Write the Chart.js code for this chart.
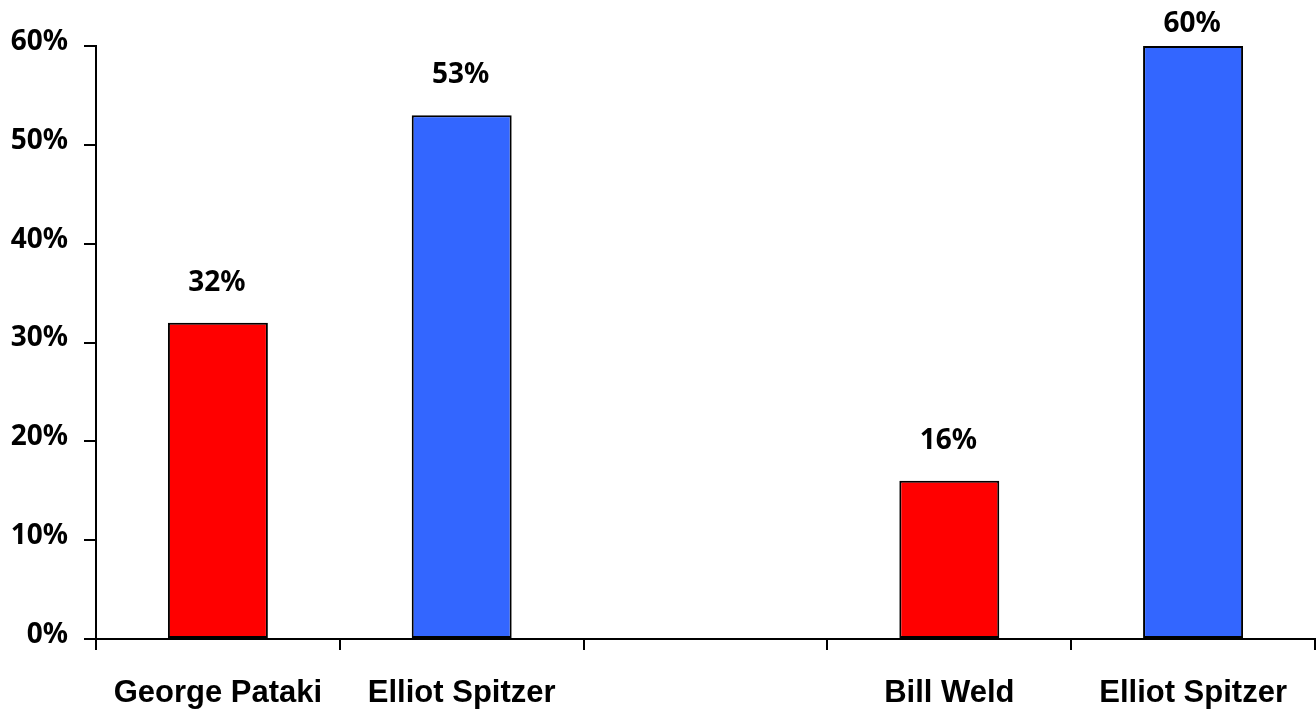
<!DOCTYPE html>
<html>
<head>
<meta charset="utf-8">
<script src="https://cdn.jsdelivr.net/npm/chart.js@4/dist/chart.umd.min.js"></script>
<style>
  body { margin: 0; background: #fff; }
  #wrap { width: 1316px; height: 710px; }
</style>
</head>
<body>
<div id="wrap"><canvas id="bars"></canvas></div>
<script>
var categories = ['George Pataki', 'Elliot Spitzer', '', 'Bill Weld', 'Elliot Spitzer'];
var values = [32, 53, null, 16, 60];
var barColors = ['#FF0000', '#3366FF', '#FFFFFF', '#FF0000', '#3366FF'];
var yTicks = [0, 10, 20, 30, 40, 50, 60];

var labelFont = { family: '"Noto Sans", sans-serif', size: 28, weight: 'bold' };

// draws the % value above each bar (kept inside the canvas at the top)
var valueLabels = {
    id: 'valueLabels',
    afterDatasetsDraw: function (chart) {
        var c = chart.ctx;
        var meta = chart.getDatasetMeta(0);
        c.save();
        c.font = 'bold 28px "Noto Sans", sans-serif';
        c.fillStyle = '#000';
        c.textAlign = 'center';
        c.textBaseline = 'alphabetic';
        meta.data.forEach(function (bar, i) {
            if (values[i] == null) return;
            c.fillText(values[i] + '%', bar.x - 1, Math.max(bar.y - 32, 32));
        });
        c.restore();
    }
};

var ctx = document.getElementById('bars').getContext('2d');
var myChart = new Chart(ctx, {
    type: 'bar',
    data: {
        labels: categories,
        datasets: [{
            data: values,
            backgroundColor: barColors,
            borderColor: '#000',
            borderWidth: 2,
            borderSkipped: false,
            categoryPercentage: 1,
            barPercentage: 0.41
        }]
    },
    options: {
        responsive: true,
        maintainAspectRatio: false,
        animation: false,
        layout: { padding: { top: 46, right: 1, left: 0, bottom: 0 } },
        plugins: {
            legend: { display: false },
            tooltip: { enabled: false }
        },
        scales: {
            x: {
                grid: { drawOnChartArea: false, drawTicks: true, tickLength: 11, color: '#000', lineWidth: 2, offset: true },
                border: { color: '#000', width: 2 },
                ticks: {
                    color: '#000',
                    padding: 25,
                    maxRotation: 0,
                    autoSkip: false,
                    font: { family: '"Liberation Sans", Arial, sans-serif', size: 31, weight: 'bold' }
                },
                afterFit: function (scale) { scale.height = 71; }
            },
            y: {
                min: 0,
                max: 60,
                grid: { drawOnChartArea: false, drawTicks: true, tickLength: 12, color: '#000', lineWidth: 2 },
                border: { color: '#000', width: 2 },
                afterBuildTicks: function (scale) {
                    scale.ticks = yTicks.map(function (v) { return { value: v }; });
                },
                ticks: {
                    color: '#000',
                    padding: 16,
                    labelOffset: -4,
                    font: labelFont,
                    callback: function (v) { return v + '%'; }
                },
                afterFit: function (scale) { scale.width = 96; }
            }
        }
    },
    plugins: [valueLabels]
});
</script>
</body>
</html>
